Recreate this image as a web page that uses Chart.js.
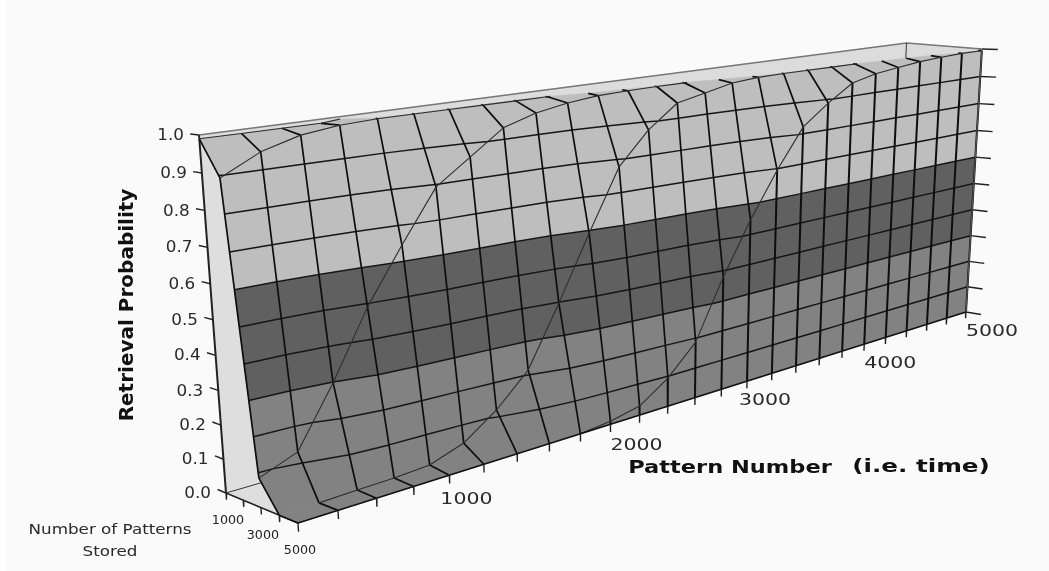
<!DOCTYPE html>
<html>
<head>
<meta charset="utf-8">
<title>Retrieval Probability</title>
<script src="https://cdn.jsdelivr.net/npm/chart.js@4"></script>
<style>
  html, body { margin: 0; padding: 0; background: #fff; }
  #chart { display: block; background: linear-gradient(90deg, #fff 7px, #fafafa 7px); }
</style>
</head>
<body>
<canvas id="chart" width="1049" height="571"></canvas>
<script>
/* Surface values: one list per "patterns stored" value */
const patternNumbers = [200, 400, 600, 800, 1000, 1200, 1400, 1600, 1800, 2000, 2200, 2400, 2600,
  2800, 3000, 3200, 3400, 3600, 3800, 4000, 4200, 4400, 4600, 4800, 5000];
const storedCounts = [1000, 2000, 3000, 4000, 5000];

const retrieval1000 = [0.99, 0.99, 0.99, 0.99, 1, 1, 1, 1, 1, 1, 1, 1, 1, 1, 1, 1, 1, 1, 1, 1, 1, 1, 1, 1, 1];
const retrieval2000 = [0.894, 0.947, 0.977, 0.99, 0.9945, 0.9945, 0.9945, 0.9945, 0.9945, 0.9945, 1, 1, 1, 1, 1, 1, 1, 1, 1, 1, 1, 1, 1, 1, 1];
const retrieval3000 = [0.085, 0.128, 0.298, 0.49, 0.646, 0.793, 0.863, 0.933, 0.963, 0.98, 0.99, 0.993, 0.9945, 0.9945, 1, 1, 1, 1, 1, 1, 1, 1, 1, 1, 1];
const retrieval4000 = [0, 0, 0.003, 0.005, 0.011, 0.046, 0.118, 0.214, 0.397, 0.592, 0.778, 0.877, 0.947, 0.966, 0.986, 0.993, 0.9945, 0.9945, 0.9945, 0.9945, 1, 1, 1, 1, 1];
const retrieval5000 = [0, 0, 0, 0, 0, 0, 0, 0, 0, 0.01, 0.03, 0.094, 0.187, 0.38, 0.548, 0.695, 0.823, 0.889, 0.944, 0.964, 0.975, 0.985, 0.99, 0.994, 0.994];
const surface = [retrieval1000, retrieval2000, retrieval3000, retrieval4000, retrieval5000];

const contourLevels = [0.1, 0.2, 0.3, 0.4, 0.5, 0.6, 0.7, 0.8, 0.9];
const probabilityTicks = [0, 0.1, 0.2, 0.3, 0.4, 0.5, 0.6, 0.7, 0.8, 0.9, 1];
const patternTicks = [1000, 2000, 3000, 4000, 5000];
const storedTicks = [1000, 3000, 5000];

const PLATEAU = 0.995;
const BANDS = [
  { lo: 0, hi: 0.3, color: '#828282' },
  { lo: 0.3, hi: 0.6, color: '#606060' },
  { lo: 0.6, hi: PLATEAU, color: '#bebebe' }
];

// 3D view: perspective fitted to the corners of the plot box
function project(p, n, z) {
  const u = (p - 200) / 4800, v = (n - 1000) / 4000;
  const w = 1 + 0.4386 * u - 0.0568 * v - 0.0627 * z;
  return {
    x: (226 + 1053.7 * u + 55.07 * v - 39.47 * z) / w,
    y: (493 - 62.16 * u + 0.29 * v - 366.46 * z) / w
  };
}

function lerp(a, b, t) {
  return { p: a.p + (b.p - a.p) * t, n: a.n + (b.n - a.n) * t, z: a.z + (b.z - a.z) * t };
}

// keep the part of a polygon on one side of a z level
function clipPoly(poly, level, keepAbove) {
  const out = [];
  poly.forEach((a, i) => {
    const b = poly[(i + 1) % poly.length];
    const aIn = keepAbove ? a.z >= level : a.z <= level;
    const bIn = keepAbove ? b.z >= level : b.z <= level;
    if (aIn) out.push(a);
    if (aIn !== bIn) out.push(lerp(a, b, (level - a.z) / (b.z - a.z)));
  });
  return out;
}

function vertex(i, j) {
  return { p: patternNumbers[i], n: storedCounts[j], z: surface[j][i] };
}

// surface cells back to front, then the skirt under the front curve
function buildQuads() {
  const quads = [];
  for (let j = 0; j < storedCounts.length - 1; j++) {
    for (let i = 0; i < patternNumbers.length - 1; i++) {
      quads.push([vertex(i, j), vertex(i + 1, j), vertex(i + 1, j + 1), vertex(i, j + 1)]);
    }
  }
  const last = storedCounts.length - 1;
  for (let i = 0; i < patternNumbers.length - 1; i++) {
    const a = vertex(i, last), b = vertex(i + 1, last);
    if (a.z === 0 && b.z === 0) continue;
    quads.push([a, b, { p: b.p, n: b.n, z: 0 }, { p: a.p, n: a.n, z: 0 }]);
  }
  return quads;
}

function toLine(points3d) {
  return points3d.map(q => project(q.p, q.n, q.z));
}

function shapeDataset(poly, color) {
  const pts = toLine(poly);
  pts.push(pts[0]);
  return {
    data: pts, showLine: true, fill: 'shape', backgroundColor: color,
    borderColor: color, borderWidth: 0.6, pointRadius: 0, clip: false, tension: 0
  };
}

function lineDataset(segments, color, width) {
  const data = [];
  segments.forEach(seg => {
    seg.forEach(q => data.push(project(q.p, q.n, q.z)));
    data.push({ x: NaN, y: NaN });
  });
  return {
    data, showLine: true, fill: false, borderColor: color, borderWidth: width,
    pointRadius: 0, clip: false, spanGaps: false, tension: 0
  };
}

function clipSegment(a, b) {
  if (a.z >= PLATEAU && b.z >= PLATEAU) return null;
  if (a.z >= PLATEAU) return [lerp(a, b, (PLATEAU - a.z) / (b.z - a.z)), b];
  if (b.z >= PLATEAU) return [a, lerp(a, b, (PLATEAU - a.z) / (b.z - a.z))];
  return [a, b];
}

function buildDatasets() {
  const pMin = patternNumbers[0], pMax = patternNumbers[patternNumbers.length - 1];
  const nMin = storedCounts[0], nMax = storedCounts[storedCounts.length - 1];
  const sets = [];
  const pt = (p, n, z) => ({ p, n, z });
  const backCorner = pt(pMax + 50, nMin, 1.012); // the far corner sits a little beyond the fit

  // box behind the surface
  sets.push(shapeDataset([pt(pMin, nMin, 0), pt(pMin, nMin, 1), pt(pMin, nMax, 1), pt(pMin, nMax, 0)], '#dedede'));
  sets.push(shapeDataset([pt(pMin, nMin, 1), backCorner, pt(pMax, nMax, 1), pt(pMin, nMax, 1)], '#dcdcdc'));
  sets.push(lineDataset([[pt(pMin, nMin, 0), pt(pMax, nMin, 0)]], '#333', 1));
  sets.push(lineDataset([[pt(pMin, nMin, 1), backCorner, pt(pMax, nMax, 1)]], '#777', 1.5));
  sets.push(lineDataset([[backCorner, pt(pMax + 50, nMin, 0)]], '#333', 1));
  sets.push(lineDataset([[pt(pMin, nMin, 0), pt(pMin, nMin, 1)]], '#222', 2));
  sets.push(lineDataset([[pt(pMin, nMin, 0), pt(pMin, nMax, 0)]], '#222', 1.5));

  // filled bands
  const quads = buildQuads();
  quads.forEach(q => {
    BANDS.forEach(b => {
      const poly = clipPoly(clipPoly(q, b.lo, true), b.hi, false);
      if (poly.length > 2) sets.push(shapeDataset(poly, b.color));
    });
  });

  // contour lines
  const contours = [];
  contourLevels.forEach(level => {
    quads.forEach(q => {
      const hits = [];
      q.forEach((a, i) => {
        const b = q[(i + 1) % q.length];
        if ((a.z - level) * (b.z - level) < 0) hits.push(lerp(a, b, (level - a.z) / (b.z - a.z)));
      });
      if (hits.length >= 2) contours.push([hits[0], hits[1]]);
      if (hits.length === 4) contours.push([hits[2], hits[3]]);
    });
  });
  sets.push(lineDataset(contours, '#161616', 1.5));

  // lines of constant pattern number, the skirt piece is heavier
  const columns = [], skirtColumns = [];
  patternNumbers.forEach((p, i) => {
    for (let j = 0; j < storedCounts.length - 1; j++) {
      const seg = clipSegment(vertex(i, j), vertex(i, j + 1));
      if (seg) columns.push(seg);
    }
    const top = vertex(i, storedCounts.length - 1);
    if (top.z > 0) skirtColumns.push([top, pt(p, top.n, 0)]);
  });
  sets.push(lineDataset(columns, '#0e0e0e', 1.7));
  sets.push(lineDataset(skirtColumns, '#0e0e0e', 2));

  // lines of constant patterns stored (the thin S curves)
  const rows = [];
  storedCounts.forEach((n, j) => {
    for (let i = 0; i < patternNumbers.length - 1; i++) {
      const a = vertex(i, j), b = vertex(i + 1, j);
      if (a.z === 0 && b.z === 0) continue;
      const seg = clipSegment(a, b);
      if (seg) rows.push(seg);
    }
  });
  sets.push(lineDataset(rows, '#2c2c2c', 1.1));

  // front edge, ticks (the level ones run along the stored axis, which is flat on screen)
  sets.push(lineDataset([[pt(pMin, nMax, 0), pt(pMax, nMax, 0)]], '#111', 1.6));
  const ticks = [];
  probabilityTicks.forEach(z => {
    ticks.push([pt(pMin, nMin, z), pt(pMin, nMin - 500, z)]);
    ticks.push([pt(pMax, nMax, z), pt(pMax, nMax + 750, z)]);
  });
  patternNumbers.forEach(p => ticks.push([pt(p, nMax, 0), pt(p, nMax, -0.025)]));
  storedCounts.forEach(n => ticks.push([pt(pMin, n, 0), pt(pMin, n, -0.02)]));
  sets.push(lineDataset(ticks, '#222', 1.4));
  sets.push(lineDataset([[pt(pMax, nMax, 0), pt(pMax, nMax, PLATEAU)]], '#555', 1.2));

  return sets.reverse(); // first dataset is painted last
}

const labelsPlugin = {
  id: 'surfaceLabels',
  afterDraw(chart) {
    const ctx = chart.ctx;
    const sx = chart.scales.x, sy = chart.scales.y;
    const at = (p, n, z) => {
      const q = project(p, n, z);
      return { x: sx.getPixelForValue(q.x), y: sy.getPixelForValue(q.y) };
    };
    const text = (str, x, y, font, color, align, stretch) => {
      ctx.save();
      ctx.translate(x, y);
      ctx.scale(stretch || 1, 1);
      ctx.font = font;
      ctx.fillStyle = color;
      ctx.textAlign = align;
      ctx.textBaseline = 'middle';
      ctx.fillText(str, 0, 0);
      ctx.restore();
    };

    probabilityTicks.forEach(z => {
      const q = at(200, 1000, z);
      text(z.toFixed(1), q.x - 15, q.y + 1, '16px "DejaVu Sans"', '#2a2a2a', 'right', 1.05);
    });
    const nudge = { 1000: [-9, 5], 2000: [0, 2], 3000: [-8, 0] };
    patternTicks.forEach(p => {
      const q = at(p, 5000, 0);
      const d = nudge[p] || [0, 0];
      text(String(p), q.x + d[0], q.y + 20 + d[1], '16px "DejaVu Sans"', '#2a2a2a', 'left', 1.28);
    });
    storedTicks.forEach(n => {
      const q = at(200, n, 0);
      text(String(n), q.x + 2, q.y + 28, '12px "DejaVu Sans"', '#222', 'center', 1.06);
    });

    text('Number of Patterns', 110, 530, '13.5px "DejaVu Sans"', '#2a2a2a', 'center', 1.24);
    text('Stored', 110, 552, '13.5px "DejaVu Sans"', '#2a2a2a', 'center', 1.24);
    text('Pattern Number', 730, 468, 'bold 18px "DejaVu Sans"', '#111', 'center', 1.25);
    text('(i.e. time)', 921, 468, 'bold 17px "DejaVu Sans"', '#111', 'center', 1.45);

    ctx.save();
    ctx.translate(128, 305);
    ctx.rotate(-Math.PI / 2);
    ctx.font = 'bold 20px "DejaVu Sans"';
    ctx.fillStyle = '#111';
    ctx.textAlign = 'center';
    ctx.textBaseline = 'middle';
    ctx.fillText('Retrieval Probability', 0, 0);
    ctx.restore();
  }
};

new Chart(document.getElementById('chart'), {
  type: 'scatter',
  data: { datasets: buildDatasets() },
  options: {
    responsive: false,
    animation: false,
    events: [],
    layout: { padding: 0 },
    plugins: { legend: { display: false }, tooltip: { enabled: false } },
    scales: {
      x: { type: 'linear', min: 0, max: 1049, display: false },
      y: { type: 'linear', min: 0, max: 571, reverse: true, display: false }
    }
  },
  plugins: [labelsPlugin]
});
</script>
</body>
</html>
